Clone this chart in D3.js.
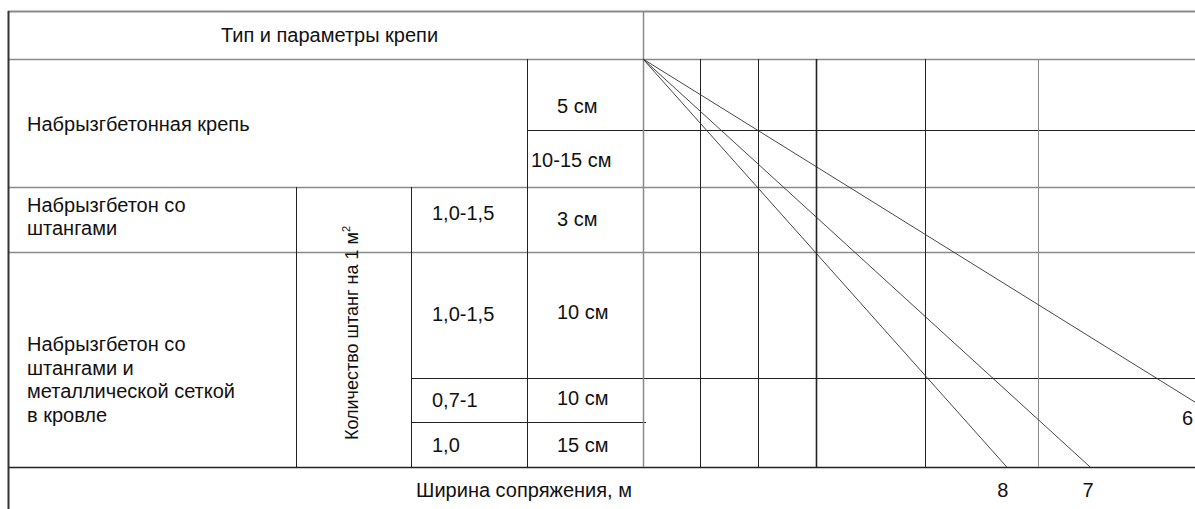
<!DOCTYPE html>
<html><head><meta charset="utf-8">
<script src="https://cdn.jsdelivr.net/npm/d3@7"></script>
<style>body{margin:0;background:#fff}svg{display:block}text{font-family:"Liberation Sans",Arial,sans-serif;fill:#111}</style>
</head><body><div id="chart"></div>
<script>
// ---- data ----
const headerTitle = "Тип и параметры крепи";
const axisTitle = "Ширина сопряжения, м";
const supportTypes = [
  ["Набрызгбетонная крепь"],
  ["Набрызгбетон со", "штангами"],
  ["Набрызгбетон со", "штангами и", "металлической сеткой", "в кровле"]
];
const boltTitle = "Количество штанг на 1 м";
const boltsPerM2 = ["1,0-1,5", "1,0-1,5", "0,7-1", "1,0"];
const thickness = ["5 см", "10-15 см", "3 см", "10 см", "10 см", "15 см"];
// nomogram grid (percent of nomogram width)
const gridX = [10.3, 20.8, 31.3, 51.1, 71.6];
// nomogram lines: start and end in percent of nomogram width / height
const lineIds = ["8", "7", "6"];
const lineStart = [[0, 0], [0, 0], [0, 0]];
const lineEnd = [[65.9, 100], [81.0, 100], [100, 84.1]];

// ---- layout ----
const W = 1195, H = 509;
const L = {left: 8, c1: 296, c2: 411, c3: 527, c4: 643, right: 1195,
  top: 11, r1: 59, r2: 130, r3: 187, r4: 252, r5: 378, r6: 422, bottom: 467};

const svg = d3.select("#chart").append("svg").attr("width", W).attr("height", H);
const x = d3.scaleLinear().domain([0, 100]).range([L.c4, L.right]);
const y = d3.scaleLinear().domain([0, 100]).range([L.r1, L.bottom]);

const dark = "#222", gray = "#8a8a8a";
function hl(y0, x0, x1, c, w) {
  svg.append("line").attr("x1", x0).attr("x2", x1).attr("y1", y0).attr("y2", y0)
    .attr("stroke", c).attr("stroke-width", w || 1);
}
function vl(x0, y0, y1, c, w) {
  svg.append("line").attr("x1", x0).attr("x2", x0).attr("y1", y0).attr("y2", y1)
    .attr("stroke", c).attr("stroke-width", w || 1);
}
// horizontal rules
hl(L.top + 0.5, L.left, L.right, gray, 2);
hl(L.r1 + 0.5, L.left, L.right, gray, 1.5);
hl(L.r2 + 0.5, L.c3, L.right, dark, 1);
hl(L.r3 + 0.5, L.left, L.right, gray, 1.5);
hl(L.r4 + 0.5, L.left, L.right, gray, 1.5);
hl(L.r5 + 0.5, L.c2, L.right, dark, 1.2);
hl(L.r6 + 0.5, L.c2, L.c4 + 3, dark, 1);
hl(L.bottom + 0.5, L.left, L.right, dark, 1.5);
// vertical rules
vl(L.left + 0.5, L.top, H, "#333", 2);
vl(L.c1 + 0.5, L.r3, L.bottom, dark, 1);
vl(L.c2 + 0.5, L.r3, L.bottom, dark, 1);
vl(L.c3 + 0.5, L.r1, L.bottom, dark, 1);
vl(L.c4 + 0.5, L.top, L.bottom, gray, 1.5);
// nomogram grid
svg.append("g").selectAll("line").data(gridX).join("line")
  .attr("x1", d => Math.round(x(d)) + 0.5).attr("x2", d => Math.round(x(d)) + 0.5)
  .attr("y1", L.r1).attr("y2", L.bottom)
  .attr("stroke", (d, i) => i === 4 ? gray : dark)
  .attr("stroke-width", (d, i) => i === 2 ? 1.6 : 1);

// nomogram lines
const lines = lineIds.map((id, i) => ({id, s: lineStart[i], e: lineEnd[i]}));
svg.append("g").selectAll("line").data(lines).join("line")
  .attr("x1", d => x(d.s[0])).attr("y1", d => y(d.s[1]))
  .attr("x2", d => x(d.e[0])).attr("y2", d => y(d.e[1]))
  .attr("stroke", "#333").attr("stroke-width", 0.9);

const fs = 20;
// line labels
const lab = svg.append("g").attr("font-size", fs);
lab.append("text").attr("x", x(lineEnd[0][0]) - 4).attr("y", 497).attr("text-anchor", "middle").text(lineIds[0]);
lab.append("text").attr("x", x(lineEnd[1][0]) - 2).attr("y", 497).attr("text-anchor", "middle").text(lineIds[1]);
lab.append("text").attr("x", 1193).attr("y", 425).attr("text-anchor", "end").text(lineIds[2]);

// texts
const t = svg.append("g").attr("font-size", fs);
t.append("text").attr("x", (L.left + L.c4) / 2 + 4).attr("y", 42).attr("text-anchor", "middle").text(headerTitle);
function multi(lines, x0, yFirst, dy) {
  lines.forEach((s, i) => t.append("text").attr("x", x0).attr("y", yFirst + i * dy).text(s));
}
multi(supportTypes[0], 27, 131, 23);
multi(supportTypes[1], 27, 212, 23);
multi(supportTypes[2], 27, 351, 23.5);
// bolts per m2
const bY = [220, 321, 407, 452];
boltsPerM2.forEach((s, i) => t.append("text").attr("x", 432).attr("y", bY[i]).text(s));
const tY = [113, 167, 226, 319, 405, 452];
const tX = [557, 531, 557, 557, 557, 557];
thickness.forEach((s, i) => t.append("text").attr("x", tX[i]).attr("y", tY[i]).text(s));
// rotated title
const rt = t.append("text").attr("font-size", 18)
  .attr("transform", `translate(358,${(L.r3 + L.bottom) / 2 + 6}) rotate(-90)`)
  .attr("text-anchor", "middle");
rt.append("tspan").text(boltTitle);
rt.append("tspan").attr("font-size", 11).attr("dy", -8).text("2");
// axis title
t.append("text").attr("x", 524).attr("y", 497).attr("text-anchor", "middle").text(axisTitle);
</script></body></html>
